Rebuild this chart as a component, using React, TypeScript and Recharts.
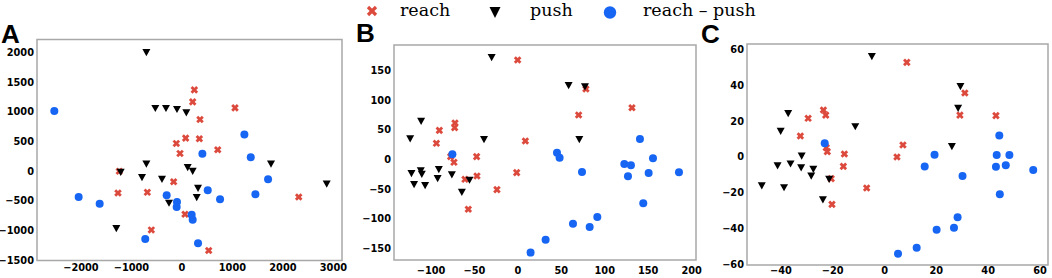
import React from 'react';
import { ScatterChart, Scatter, XAxis, YAxis, ReferenceArea } from 'recharts';

type P = [number, number];

const RED = '#dc4a3d';
const BLUE = '#1765f3';
const BLACK = '#000000';
const FRAME = '#a8a8a8';

const legendLabels = ['reach', 'push', 'reach \u2013 push'];
const panelLabels = ['A', 'B', 'C'];

// Panel A
const reachA: P[] = [[246, 1368], [213, 1166], [358, 870], [1051, 1066], [74, 557], [-111, 468], [345, 546], [-38, 300], [709, 362], [-1240, 0], [-164, -176], [-1266, -365], [-685, -354], [2313, -433], [61, -723], [-606, -986], [530, -1331]];
const pushA: P[] = [[-704, 2000], [-527, 1060], [-316, 1060], [-98, 1043], [87, 987], [-704, 124], [114, 65], [213, 4], [-1213, -13], [-791, -102], [-395, -130], [1764, 124], [2867, -211], [319, -281], [293, -438], [-256, -533], [-1299, -958]];
const bothA: P[] = [[-2527, 1014], [1237, 617], [1363, 237], [405, 293], [1706, -136], [1455, -388], [511, -321], [755, -472], [-302, -405], [-98, -516], [-104, -600], [193, -729], [213, -813], [-2045, -433], [-1629, -545], [-726, -1137], [319, -1210]];
const xTicksA = [-2000, -1000, 0, 1000, 2000, 3000];
const yTicksA = [-1500, -1000, -500, 0, 500, 1000, 1500, 2000];

// Panel B
const reachB: P[] = [[-0.3, 168], [78.3, 119], [69.9, 75.1], [131.3, 87.5], [-72.4, 61.6], [-72.8, 53.8], [-90.4, 49.2], [-93.8, 27.3], [8.6, 31.2], [-77.4, 4.8], [-73.6, -4.8], [-47.5, 4.8], [-47.1, -27.9], [-60.9, -33.5], [-1.4, -22.2], [-24.1, -50.9], [-57.1, -84.1]];
const pushB: P[] = [[-30.2, 172.5], [58.4, 125.2], [77.2, 123], [-111.4, 65], [-124, 35.2], [-39, 34], [70.7, 34], [-122.5, -23.4], [-111.8, -18.9], [-110.6, -24.5], [-91, -16.6], [-119.5, -41.9], [-106.8, -43.6], [-92.4, -31.8], [-76, -25.6], [-55.7, -34.6], [-64.5, -54.9]];
const bothB: P[] = [[-75.4, 8.7], [45, 11.5], [48, 3.1], [73.8, -21.1], [140.5, 34.6], [155.5, 2.0], [122.5, -7.6], [130.1, -9.8], [126.7, -28.4], [150.5, -22.8], [185.4, -21.7], [144.3, -74], [63.4, -108.4], [91.4, -97.1], [82.6, -114], [31.9, -135.4], [14.6, -157.3]];
const xTicksB = [-100, -50, 0, 50, 100, 150, 200];
const yTicksB = [-150, -100, -50, 0, 50, 100, 150];

// Panel C
const reachC: P[] = [[8.6, 52.6], [31, 35.6], [29.1, 23.3], [43, 23], [-23.6, 26.1], [-22.7, 23.3], [-29.5, 21.5], [-32.5, 11.7], [-22.5, 5.2], [-22.1, 3], [-15.5, 1.7], [-15.9, -5.2], [7.1, 6.7], [4.8, 0], [-20.6, -12], [-6.9, -17.2], [-20.3, -26.3]];
const pushC: P[] = [[-4.9, 55.9], [29.3, 39.3], [28.4, 27.2], [-37.2, 24.3], [-40.1, 14.4], [-11.3, 17], [-32, 0.7], [-41.3, -4.8], [-36.3, -3.7], [-32.2, -5.9], [-27.5, -6.7], [-28.3, -10.4], [-21.4, -12.2], [-47.4, -15.9], [-38.8, -16.9], [-23.8, -23.7], [26, 5.9]];
const bothC: P[] = [[-23.1, 7.6], [44.3, 12], [43.3, 1.1], [48.2, 1.1], [15.5, -5.2], [19.3, 1.3], [43, -5.4], [46.8, -4.6], [57.4, -7.2], [30.1, -10.6], [44.5, -20.7], [28.2, -33.5], [26.8, -39.3], [20.1, -40.4], [12.4, -50.4], [5.2, -53.7]];
const xTicksC = [-40, -20, 0, 20, 40, 60];
const yTicksC = [-60, -40, -20, 0, 20, 40, 60];

const toPts = (a: P[]) => a.map(([x, y]) => ({ x, y }));
const fmt = (v: number) => String(v).replace('-', '\u2212');

const XMark = (props: any) => {
  const { cx, cy } = props;
  const s = 2.8;
  return (
    <g>
      <line x1={cx - s} y1={cy - s} x2={cx + s} y2={cy + s} stroke={RED} strokeWidth={2.8} />
      <line x1={cx - s} y1={cy + s} x2={cx + s} y2={cy - s} stroke={RED} strokeWidth={2.8} />
    </g>
  );
};
const TriMark = (props: any) => {
  const { cx, cy } = props;
  return <path d={`M${cx - 4},${cy - 3.3} L${cx + 4},${cy - 3.3} L${cx},${cy + 3.9} Z`} fill={BLACK} />;
};
const DotMark = (props: any) => {
  const { cx, cy } = props;
  return <circle cx={cx} cy={cy} r={4} fill={BLUE} />;
};

const tickStyle = { fill: '#000', fontSize: 9.8, fontWeight: 'bold', fontFamily: 'DejaVu Sans' };

type PanelProps = {
  left: number;
  width: number;
  margin: { top: number; right: number; bottom: number; left: number };
  yAxisWidth: number;
  xAxisHeight: number;
  xTickMargin: number;
  xDomain: [number, number];
  yDomain: [number, number];
  xTicks: number[];
  yTicks: number[];
  reach: P[];
  push: P[];
  both: P[];
};

function Panel(p: PanelProps) {
  return (
    <div style={{ position: 'absolute', left: p.left, top: 0 }}>
      <ScatterChart width={p.width} height={278} margin={p.margin}>
        <XAxis
          type="number"
          dataKey="x"
          domain={p.xDomain}
          allowDataOverflow
          ticks={p.xTicks}
          interval={0}
          tickFormatter={fmt}
          tickLine={false}
          axisLine={false}
          tickSize={0}
          tickMargin={p.xTickMargin}
          height={p.xAxisHeight}
          tick={tickStyle}
        />
        <YAxis
          type="number"
          dataKey="y"
          domain={p.yDomain}
          allowDataOverflow
          ticks={p.yTicks}
          interval={0}
          tickFormatter={fmt}
          tickLine={false}
          axisLine={false}
          tickSize={0}
          tickMargin={3}
          width={p.yAxisWidth}
          tick={tickStyle}
        />
        <ReferenceArea
          x1={p.xDomain[0]}
          x2={p.xDomain[1]}
          y1={p.yDomain[0]}
          y2={p.yDomain[1]}
          fill="none"
          fillOpacity={0}
          stroke={FRAME}
          strokeWidth={1.5}
          ifOverflow="visible"
        />
        <Scatter data={toPts(p.reach)} shape={XMark} isAnimationActive={false} />
        <Scatter data={toPts(p.push)} shape={TriMark} isAnimationActive={false} />
        <Scatter data={toPts(p.both)} shape={DotMark} isAnimationActive={false} />
      </ScatterChart>
    </div>
  );
}

export default function App() {
  return (
    <div style={{ position: 'absolute', left: 0, top: 0, width: 1052, height: 278, background: '#fff', overflow: 'hidden' }}>
      <Panel
        left={0}
        width={350}
        margin={{ top: 39.5, right: 8, bottom: 0, left: 0 }}
        yAxisWidth={37}
        xAxisHeight={17.5}
        xTickMargin={4}
        xDomain={[-2870, 3170]}
        yDomain={[-1500, 2215]}
        xTicks={xTicksA}
        yTicks={yTicksA}
        reach={reachA}
        push={pushA}
        both={bothA}
      />
      <Panel
        left={340}
        width={370}
        margin={{ top: 45, right: 14, bottom: 0, left: 0 }}
        yAxisWidth={54}
        xAxisHeight={18}
        xTickMargin={7}
        xDomain={[-142.6, 205]}
        yDomain={[-169.8, 193.4]}
        xTicks={xTicksB}
        yTicks={yTicksB}
        reach={reachB}
        push={pushB}
        both={bothB}
      />
      <Panel
        left={700}
        width={352}
        margin={{ top: 44, right: 4, bottom: 0, left: 0 }}
        yAxisWidth={47}
        xAxisHeight={13}
        xTickMargin={2}
        xDomain={[-53.1, 63.1]}
        yDomain={[-60, 62.8]}
        xTicks={xTicksC}
        yTicks={yTicksC}
        reach={reachC}
        push={pushC}
        both={bothC}
      />
      <svg width={1052} height={50} style={{ position: 'absolute', left: 0, top: 0, pointerEvents: 'none' }}>
        <g>
          <line x1={368} y1={7} x2={376} y2={15} stroke={RED} strokeWidth={3.2} />
          <line x1={368} y1={15} x2={376} y2={7} stroke={RED} strokeWidth={3.2} />
          <text x={400} y={16} fontFamily="DejaVu Serif" fontSize={17.5} fill="#000">{legendLabels[0]}</text>
          <path d="M489.5,7 L500.5,7 L495,18 Z" fill={BLACK} />
          <text x={530} y={16} fontFamily="DejaVu Serif" fontSize={17.5} fill="#000">{legendLabels[1]}</text>
          <circle cx={610} cy={12.5} r={6.2} fill={BLUE} />
          <text x={643} y={16} fontFamily="DejaVu Serif" fontSize={17.5} fill="#000">{legendLabels[2]}</text>
        </g>
        <g fontFamily="Liberation Sans" fontWeight="bold" fontSize={26} fill="#000">
          <text x={1} y={42.5}>{panelLabels[0]}</text>
          <text x={356} y={42}>{panelLabels[1]}</text>
          <text x={701} y={42.5}>{panelLabels[2]}</text>
        </g>
      </svg>
    </div>
  );
}
